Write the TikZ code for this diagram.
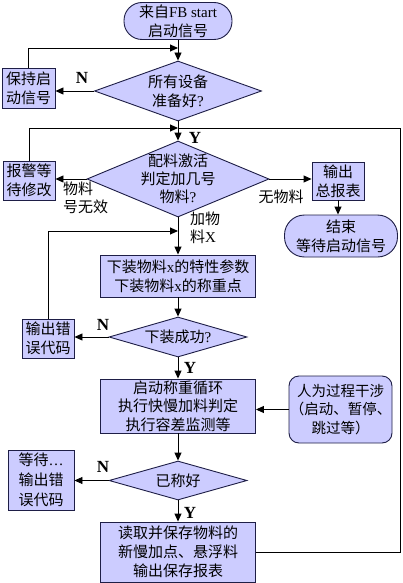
\documentclass[tikz,border=0pt]{standalone}
\usepackage{fontspec}
\setmainfont{Liberation Serif}
\newfontfamily\cjk{Noto Sans CJK SC}
\usetikzlibrary{shapes.geometric,arrows.meta,calc}
\definecolor{boxfill}{RGB}{204,204,255}
\definecolor{boxline}{RGB}{30,30,70}
\tikzset{
  base/.style={draw=boxline, fill=boxfill, line width=0.9pt, align=center, inner sep=0pt,
    font=\cjk\fontsize{15}{19}\selectfont},
  stadium/.style={base, rounded corners=18pt},
  dia/.style={base, diamond},
  lab/.style={font=\cjk\fontsize{15}{18}\selectfont, align=left, inner sep=0pt},
  dlab/.style={font=\cjk\fontsize{15}{19}\selectfont, align=center, inner sep=0pt},
  arr/.style={-{Triangle[length=8pt,width=7pt]}, line width=0.9pt, draw=black},
  yn/.style={font=\bfseries\fontsize{17}{17}\selectfont, inner sep=0pt},
  conn/.style={line width=0.9pt, draw=black}
}
\begin{document}
\begin{tikzpicture}[x=1pt,y=-1pt]
\useasboundingbox (0,0) rectangle (403,583);
\fill[white] (0,0) rectangle (403,583);

% nodes
\node[stadium, minimum width=108pt, minimum height=37pt] (start) at (178,21) {来自{\rmfamily FB start}\\启动信号};
\node[dia, minimum width=167pt, minimum height=60pt,
  label={[dlab]center:所有设备\\准备好{\rmfamily ?}}] (d1) at (178,91) {};
\node[base, minimum width=53pt, minimum height=40pt] (keep) at (28.5,88) {保持启\\动信号};

\node[dia, minimum width=182pt, minimum height=76pt,
  label={[dlab, font=\cjk\fontsize{15}{18}\selectfont]center:配料激活\\判定加几号\\物料{\rmfamily ?}}] (d2) at (178,179) {};
\node[base, minimum width=52pt, minimum height=39pt] (alarm) at (29,180.5) {报警等\\待修改};
\node[base, minimum width=52pt, minimum height=38pt] (outbox) at (338,181) {输出\\总报表};
\node[stadium, rounded corners=20pt, minimum width=113pt, minimum height=42pt] (end) at (341,236) {结束\\等待启动信号};

\node[base, minimum width=155pt, minimum height=42pt] (box3) at (178,276)
  {下装物料{\rmfamily x}的特性参数\\下装物料{\rmfamily x}的称重点};
\node[dia, minimum width=138pt, minimum height=40pt,
  label={[dlab]center:下装成功{\rmfamily ?}}] (d3) at (178,337) {};
\node[base, minimum width=52pt, minimum height=39pt] (err1) at (48,338.5) {输出错\\误代码};

\node[base, minimum width=155pt, minimum height=54pt, font=\cjk\fontsize{15}{18.5}\selectfont] (box4) at (178,406)
  {启动称重循环\\执行快慢加料判定\\执行容差监测等};
\node[base, rounded corners=10pt, minimum width=103pt, minimum height=67pt, font=\cjk\fontsize{14.5}{18.5}\selectfont] (human) at (340.5,409.5)
  {人为过程干涉\\（启动、暂停、\\跳过等）};

\node[dia, minimum width=138pt, minimum height=39pt,
  label={[dlab]center:已称好}] (d4) at (178,480.5) {};
\node[base, minimum width=66pt, minimum height=60pt, font=\cjk\fontsize{15}{20}\selectfont] (err2) at (41,480) {等待{\rmfamily\ldots}\\输出错\\误代码};

\node[base, minimum width=155pt, minimum height=60pt] (box5) at (178,552)
  {读取并保存物料的\\新慢加点、悬浮料\\输出保存报表};

% labels
\node[yn] (n1) at (82,78) {N};
\node[yn] (y1) at (195,138) {Y};
\node[lab, anchor=north west] (l1) at (63,182) {物料\\号无效};
\node[lab] (l2) at (281,197) {无物料};
\node[lab, anchor=north west] (l3) at (190,212) {加物\\料{\rmfamily X}};
\node[yn] (n2) at (103,325) {N};
\node[yn] (y2) at (190,368) {Y};
\node[yn] (n3) at (103,467) {N};
\node[yn] (y3) at (190,513) {Y};

% junctions
\coordinate (j1) at (178,48);
\coordinate (j2) at (178,128);
\coordinate (j3) at (178,231);

% connectors
\draw[arr] (start.south) -- (d1.north);
\draw[arr] (keep.north) |- (j1);
\draw[arr] (d1.west) -- (d1.west -| keep.east);

\draw[arr] (d1.south) -- (d2.north);
\draw[arr] (alarm.north) |- (j2);
\draw[arr] (d2.west) -- (d2.west -| alarm.east);
\draw[arr] (d2.east) -- (d2.east -| outbox.west);
\draw[arr] (outbox.south) -- (outbox.south |- end.north);

\draw[arr] (d2.south) -- (box3.north);
\draw[arr] (err1.north) |- (j3);
\draw[arr] (box3.south) -- (d3.north);
\draw[arr] (d3.west) -- (d3.west -| err1.east);
\draw[arr] (d3.south) -- (box4.north);
\draw[arr] (human.west) -- (human.west -| box4.east);
\draw[arr] (box4.south) -- (d4.north);
\draw[arr] (d4.west) -- (d4.west -| err2.east);
\draw[arr] (d4.south) -- (box5.north);
\draw[conn] (box5.east) -- ++(144,0) |- (j2);
\end{tikzpicture}
\end{document}
